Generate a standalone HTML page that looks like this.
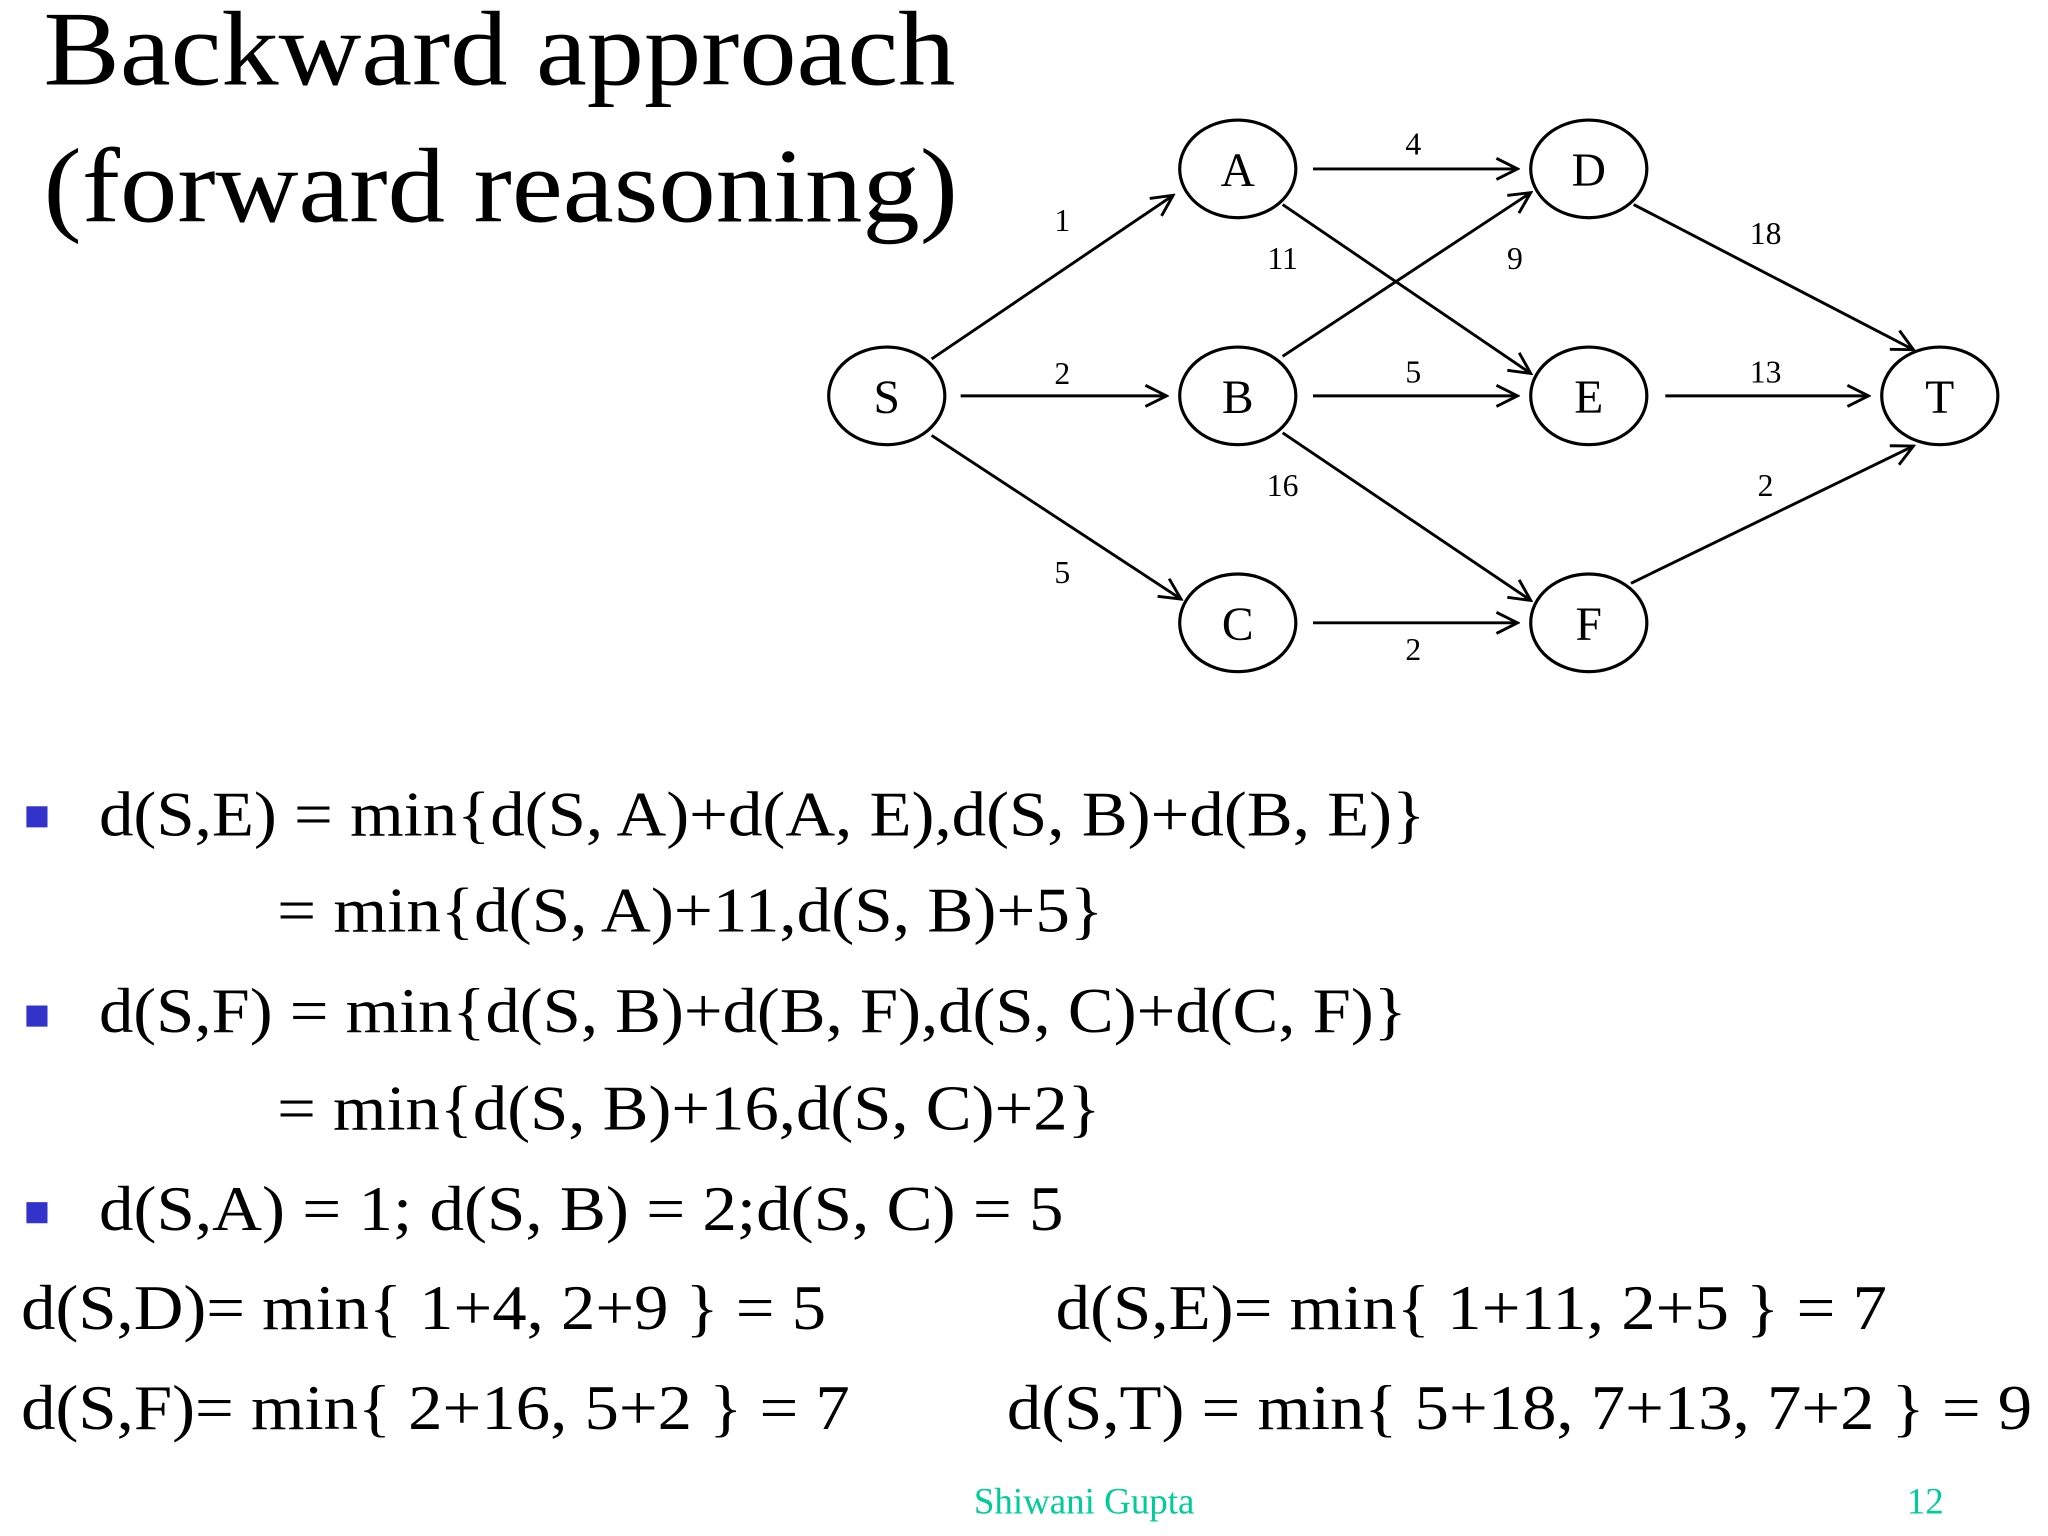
<!DOCTYPE html>
<html><head><meta charset="utf-8"><style>
html,body{margin:0;padding:0;background:#fff;width:2048px;height:1536px;overflow:hidden}
svg{display:block}
text{font-family:"Liberation Serif",serif;fill:#000}
</style></head><body>
<svg width="2048" height="1536" viewBox="0 0 1552 1164" xmlns="http://www.w3.org/2000/svg">
<defs>
<marker id="ar" viewBox="0 0 20 20" refX="18" refY="10" markerWidth="20" markerHeight="20" markerUnits="userSpaceOnUse" orient="auto">
<path d="M2,2 L18,10 L2,18" fill="none" stroke="#000" stroke-width="2.2"/>
</marker>
</defs>
<rect width="1552" height="1164" fill="#fff"/>
<text x="33" y="64" font-size="80" textLength="691" lengthAdjust="spacingAndGlyphs">Backward approach</text>
<text x="33" y="168" font-size="80" textLength="693" lengthAdjust="spacingAndGlyphs">(forward reasoning)</text>

<g stroke="#000" stroke-width="2.2" fill="none" marker-end="url(#ar)">
<line x1="706" y1="272" x2="889" y2="148"/>
<line x1="728" y1="300" x2="884" y2="300"/>
<line x1="706" y1="330" x2="895" y2="454"/>
<line x1="995" y1="128" x2="1150" y2="128"/>
<line x1="972" y1="155" x2="1160" y2="283"/>
<line x1="972" y1="270" x2="1160" y2="146"/>
<line x1="995" y1="300" x2="1150" y2="300"/>
<line x1="972" y1="328" x2="1160" y2="455"/>
<line x1="995" y1="472" x2="1150" y2="472"/>
<line x1="1238" y1="155" x2="1450" y2="265"/>
<line x1="1262" y1="300" x2="1416" y2="300"/>
<line x1="1236" y1="442" x2="1450" y2="338"/>
</g>
<g stroke="#000" stroke-width="2.4" fill="#fff">
<ellipse cx="672" cy="300" rx="44" ry="37"/>
<ellipse cx="938" cy="128" rx="44" ry="37"/>
<ellipse cx="938" cy="300" rx="44" ry="37"/>
<ellipse cx="938" cy="472" rx="44" ry="37"/>
<ellipse cx="1204" cy="128" rx="44" ry="37"/>
<ellipse cx="1204" cy="300" rx="44" ry="37"/>
<ellipse cx="1204" cy="472" rx="44" ry="37"/>
<ellipse cx="1470" cy="300" rx="44" ry="37"/>
</g>
<g font-size="36" text-anchor="middle">
<text x="672" y="313">S</text>
<text x="938" y="141">A</text>
<text x="938" y="313">B</text>
<text x="938" y="485">C</text>
<text x="1204" y="141">D</text>
<text x="1204" y="313">E</text>
<text x="1204" y="485">F</text>
<text x="1470" y="313">T</text>
</g>
<g font-size="24" text-anchor="middle">
<text x="805" y="175">1</text>
<text x="805" y="291">2</text>
<text x="805" y="442">5</text>
<text x="1071" y="117">4</text>
<text x="972" y="204">11</text>
<text x="1148" y="204">9</text>
<text x="1071" y="290">5</text>
<text x="972" y="376">16</text>
<text x="1071" y="500">2</text>
<text x="1338" y="185">18</text>
<text x="1338" y="290">13</text>
<text x="1338" y="376">2</text>
</g>

<g fill="#3333cc">
<rect x="20" y="611" width="16" height="16"/>
<rect x="20" y="762" width="16" height="16"/>
<rect x="20" y="911" width="16" height="16"/>
</g>
<g font-size="48">
<text x="75" y="633" textLength="1005" lengthAdjust="spacingAndGlyphs">d(S,E) = min{d(S, A)+d(A, E),d(S, B)+d(B, E)}</text>
<text x="210" y="706" textLength="626" lengthAdjust="spacingAndGlyphs">= min{d(S, A)+11,d(S, B)+5}</text>
<text x="75" y="782" textLength="991" lengthAdjust="spacingAndGlyphs">d(S,F) = min{d(S, B)+d(B, F),d(S, C)+d(C, F)}</text>
<text x="210" y="856" textLength="624" lengthAdjust="spacingAndGlyphs">= min{d(S, B)+16,d(S, C)+2}</text>
<text x="75" y="932" textLength="731" lengthAdjust="spacingAndGlyphs">d(S,A) = 1; d(S, B) = 2;d(S, C) = 5</text>
<text x="16" y="1007" textLength="610" lengthAdjust="spacingAndGlyphs">d(S,D)= min{ 1+4, 2+9 } = 5</text>
<text x="800" y="1007" textLength="630" lengthAdjust="spacingAndGlyphs">d(S,E)= min{ 1+11, 2+5 } = 7</text>
<text x="16" y="1083" textLength="628" lengthAdjust="spacingAndGlyphs">d(S,F)= min{ 2+16, 5+2 } = 7</text>
<text x="763" y="1083" textLength="777" lengthAdjust="spacingAndGlyphs">d(S,T) = min{ 5+18, 7+13, 7+2 } = 9</text>
</g>
<text x="738" y="1147" font-size="28" style="fill:#00cc99">Shiwani Gupta</text>
<text x="1445" y="1147" font-size="28" style="fill:#00cc99">12</text>
</svg>
</body></html>
